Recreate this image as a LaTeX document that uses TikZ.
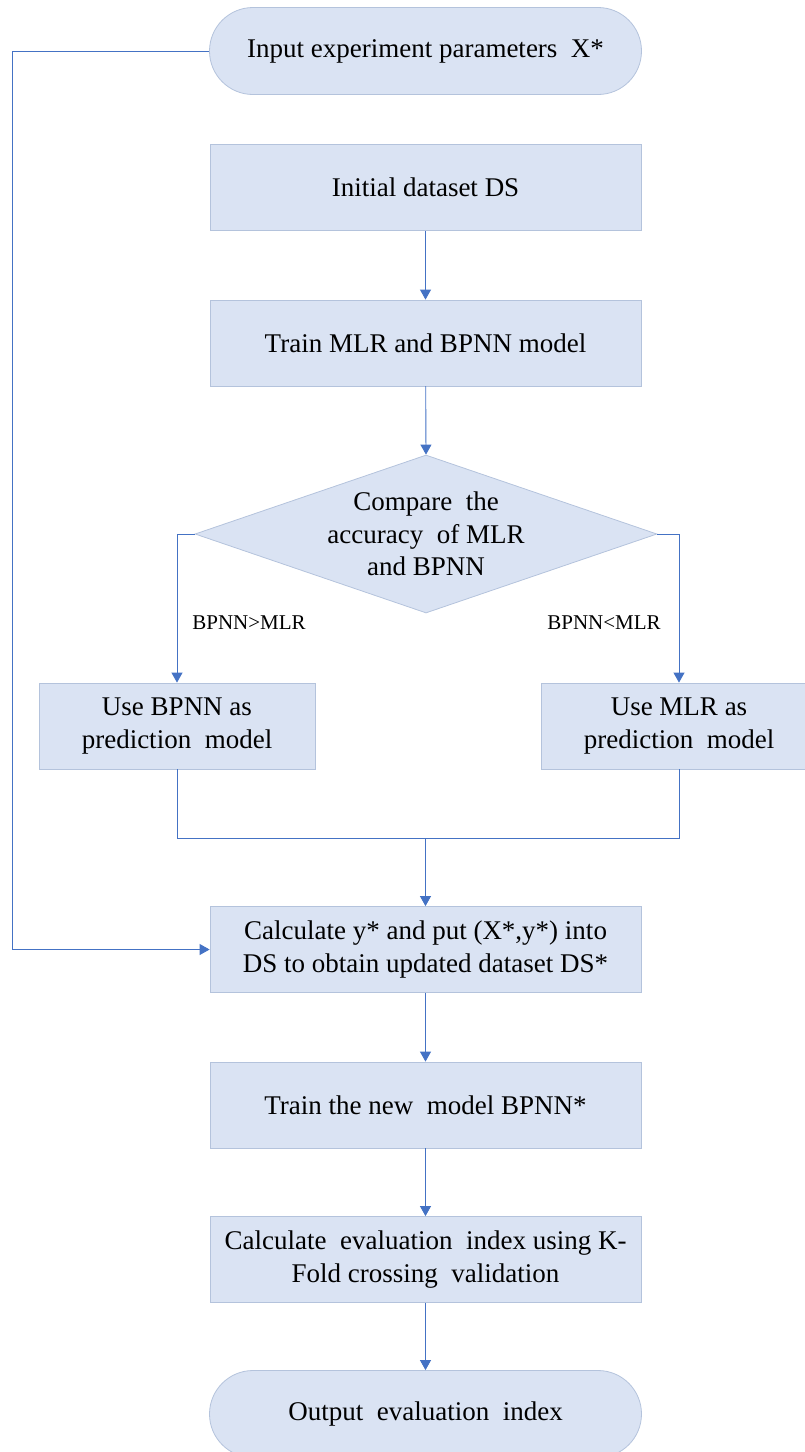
\documentclass[tikz,border=0pt]{standalone}
\usepackage{fontspec}
\setmainfont{Liberation Serif}
\usetikzlibrary{shapes.geometric,arrows.meta}
\definecolor{boxfill}{HTML}{DAE3F3}
\definecolor{boxline}{HTML}{B4C3DC}
\definecolor{conncol}{HTML}{4472C4}
\begin{document}
\begin{tikzpicture}[x=1pt,y=-1pt,
  every node/.style={inner sep=0pt},
  txt/.style={font=\fontsize{27}{32.5}\selectfont, align=center},
  stepbox/.style={txt, draw=boxline, fill=boxfill, line width=0.8pt, minimum width=431pt, minimum height=86pt},
  sidebox/.style={txt, draw=boxline, fill=boxfill, line width=0.8pt, minimum width=276pt, minimum height=86pt},
  term/.style={txt, draw=boxline, fill=boxfill, line width=0.8pt, minimum width=432pt, minimum height=87pt, rounded corners=43.5pt},
  conn/.style={draw=conncol, line width=0.9pt},
  arr/.style={conn, -{Triangle[length=10pt,width=11pt]}},
  lab/.style={font=\fontsize{21}{24}\selectfont}
]
\useasboundingbox (0,0) rectangle (805,1452);
\node[term] (in) at (425.5,51) {Input experiment parameters\ \ X*};
\node[stepbox] (init) at (425.5,187.5) {Initial dataset DS};
\node[stepbox] (train) at (425.5,343) {Train MLR and BPNN model};
\node[diamond, draw=boxline, fill=boxfill, line width=0.8pt, aspect=2.92, minimum width=462pt, minimum height=158pt] (cmp) at (426,534) {};
\node[txt] (cmptxt) at (cmp) {Compare\ \ the\\accuracy\ \ of MLR\\and BPNN};
\node[sidebox] (bp) at (177,726) {Use BPNN as\\prediction\ \ model};
\node[sidebox] (ml) at (679,726) {Use MLR as\\prediction\ \ model};
\node[lab] (l1) at (249,623) {BPNN>MLR};
\node[lab] (l2) at (604,623) {BPNN<MLR};
\node[stepbox] (calc) at (425.5,949.5) {Calculate\ y* and put (X*,y*) into\\DS to obtain\ updated dataset DS*};
\node[stepbox] (new) at (425.5,1105) {Train the new\ \ model BPNN*};
\node[stepbox] (eval) at (425.5,1259.5) {Calculate\ \ evaluation\ \ index using K-\\Fold crossing\ \ validation};
\node[term] (out) at (425.5,1414) {Output\ \ evaluation\ \ index};
\coordinate (fb) at (12,51);
\coordinate (mg) at (425.5,838);
\draw[arr] (init) -- (train);
\draw[arr] (train) -- (cmp.north);
\draw[arr] (cmp.west) -| (bp.north);
\draw[arr] (cmp.east) -| (ml.north);
\draw[conn] (bp.south) |- (mg) -| (ml.south);
\draw[arr] (mg) -- (calc.north);
\draw[arr] (in.west) -- (fb) |- (calc.west);
\draw[arr] (calc) -- (new);
\draw[arr] (new) -- (eval);
\draw[arr] (eval) -- (out);
\end{tikzpicture}
\end{document}
